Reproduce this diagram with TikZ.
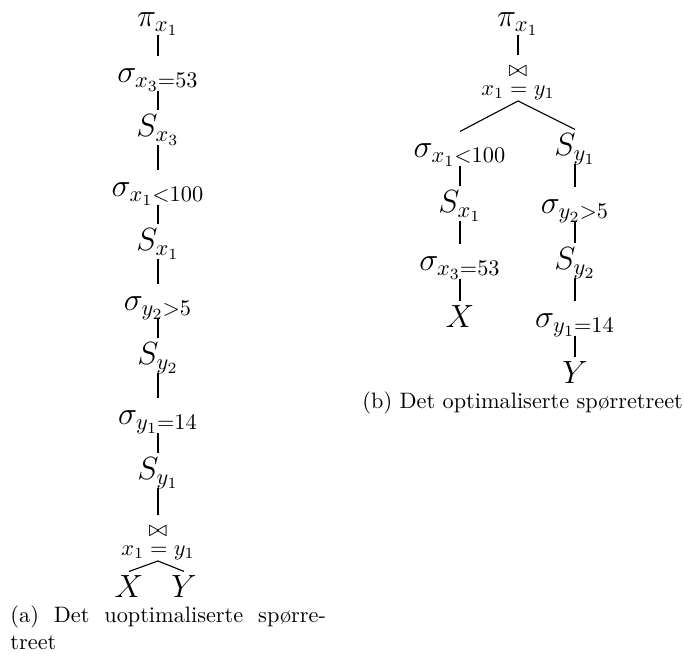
\documentclass[tikz,border=0pt]{standalone}
\usepackage{tikz}
\begin{document}
\begin{tikzpicture}[x=0.4484pt,y=-0.4484pt,
  tn/.style={inner sep=0pt, text height=11.7pt, text depth=3.2pt, anchor=base, font=\Large},
  jn/.style={inner sep=0.5pt, align=center, anchor=south, font=\normalsize},
  vline/.style={line width=1.1pt},
  dline/.style={line width=0.5pt},
  captext/.style={inner sep=0pt, font=\normalsize}]
\useasboundingbox (0,0) rectangle (684,657);
% (a) unoptimised tree
\node[tn] (a1) at (158,27) {$\pi_{x_1}$};
\node[tn] (a2) at (158,83) {$\sigma_{x_3=53}$};
\node[tn] (a3) at (158,137) {$S_{x_3}$};
\node[tn] (a4) at (158,197) {$\sigma_{x_1<100}$};
\node[tn] (a5) at (158,251) {$S_{x_1}$};
\node[tn] (a6) at (158,311) {$\sigma_{y_2>5}$};
\node[tn] (a7) at (158,365) {$S_{y_2}$};
\node[tn] (a8) at (158,425) {$\sigma_{y_1=14}$};
\node[tn] (a9) at (158,480) {$S_{y_1}$};
\node[jn] (aj) at (158,561) {\rule{0pt}{9pt}$\bowtie$\\[-3.5pt]$x_1 = y_1$};
\node[tn] (ax) at (129,598) {$X$};
\node[tn] (ay) at (184,598) {$Y$};
\draw[vline] (a1.south) -- (a2.north);
\draw[vline] (a2.south) -- (a3.north);
\draw[vline] (a3.south) -- (a4.north);
\draw[vline] (a4.south) -- (a5.north);
\draw[vline] (a5.south) -- (a6.north);
\draw[vline] (a6.south) -- (a7.north);
\draw[vline] (a7.south) -- (a8.north);
\draw[vline] (a8.south) -- (a9.north);
\draw[vline] (a9.south) -- (aj.north);
\draw[dline] (aj.south) -- (ax.north);
\draw[dline] (aj.south) -- (ay.north);
% (b) optimised tree
\node[tn] (b1) at (518,27) {$\pi_{x_1}$};
\node[jn] (bj) at (518,101) {\rule{0pt}{9pt}$\bowtie$\\[-3.5pt]$x_1 = y_1$};
\node[tn] (b2) at (460,158) {$\sigma_{x_1<100}$};
\node[tn] (b3) at (460,213) {$S_{x_1}$};
\node[tn] (b4) at (460,271) {$\sigma_{x_3=53}$};
\node[tn] (b5) at (460,328) {$X$};
\node[tn] (c2) at (575,156) {$S_{y_1}$};
\node[tn] (c3) at (575,214) {$\sigma_{y_2>5}$};
\node[tn] (c4) at (575,270) {$S_{y_2}$};
\node[tn] (c5) at (575,328) {$\sigma_{y_1=14}$};
\node[tn] (c6) at (575,384) {$Y$};
\draw[vline] (b1.south) -- (bj.north);
\draw[dline] (bj.south) -- (b2.north);
\draw[dline] (bj.south) -- (c2.north);
\draw[vline] (b2.south) -- (b3.north);
\draw[vline] (b3.south) -- (b4.north);
\draw[vline] (b4.south) -- (b5.north);
\draw[vline] (c2.south) -- (c3.north);
\draw[vline] (c3.south) -- (c4.north);
\draw[vline] (c4.south) -- (c5.north);
\draw[vline] (c5.south) -- (c6.north);
% captions
\node[captext, anchor=north west, text width=141.5pt, align=justify] (capa) at (10,605.3)
  {(a) Det uoptimaliserte spørre-\linebreak treet};
\node[captext, anchor=base west] (capb) at (362,409) {(b) Det optimaliserte spørretreet};
\end{tikzpicture}
\end{document}
